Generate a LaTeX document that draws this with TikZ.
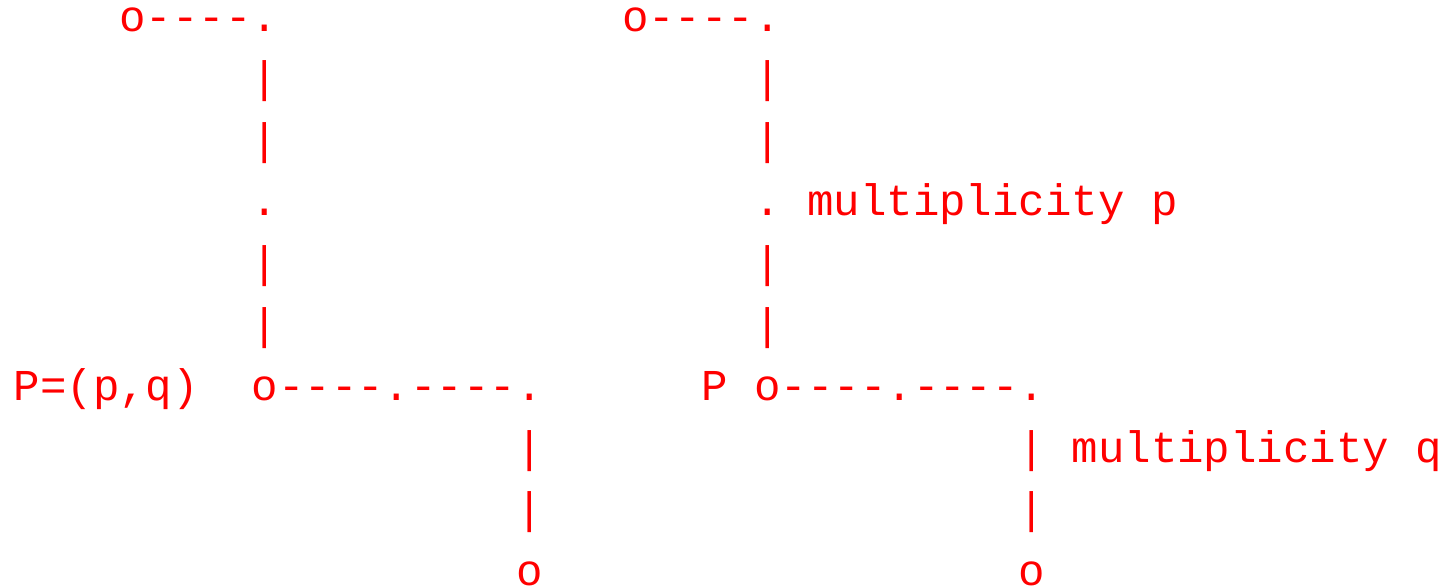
\documentclass[tikz,border=0pt]{standalone}
\usepackage{fontspec}
\setmonofont{Liberation Mono}
\definecolor{asciired}{RGB}{255,0,0}
\tikzset{
  txt/.style={anchor=base west, inner sep=0pt, outer sep=0pt, text=asciired,
    font=\ttfamily\fontsize{44.08bp}{61.5bp}\selectfont}
}
\newcommand\asciiat[4]{\node[txt] (#1) at ({13.7+#3*26.45},{-(31.5+#2*61.5)}) {#4};}
\begin{document}
\begin{tikzpicture}[x=1bp,y=1bp]
\useasboundingbox (0,0) rectangle (1451,-588);
% row 0
\asciiat{a0}{0}{4}{o----.}
\asciiat{b0}{0}{23}{o----.}
% rows 1-2
\asciiat{a1}{1}{9}{|}
\asciiat{b1}{1}{28}{|}
\asciiat{a2}{2}{9}{|}
\asciiat{b2}{2}{28}{|}
% row 3
\asciiat{a3}{3}{9}{.}
\asciiat{b3}{3}{28}{.}
\asciiat{mp}{3}{30}{multiplicity p}
% rows 4-5
\asciiat{a4}{4}{9}{|}
\asciiat{b4}{4}{28}{|}
\asciiat{a5}{5}{9}{|}
\asciiat{b5}{5}{28}{|}
% row 6
\asciiat{Pl}{6}{0}{P=(p,q)}
\asciiat{a6}{6}{9}{o----.----.}
\asciiat{Pr}{6}{26}{P}
\asciiat{b6}{6}{28}{o----.----.}
% row 7
\asciiat{a7}{7}{19}{|}
\asciiat{b7}{7}{38}{|}
\asciiat{mq}{7}{40}{multiplicity q}
% row 8
\asciiat{a8}{8}{19}{|}
\asciiat{b8}{8}{38}{|}
% row 9
\asciiat{a9}{9}{19}{o}
\asciiat{b9}{9}{38}{o}
\end{tikzpicture}
\end{document}
